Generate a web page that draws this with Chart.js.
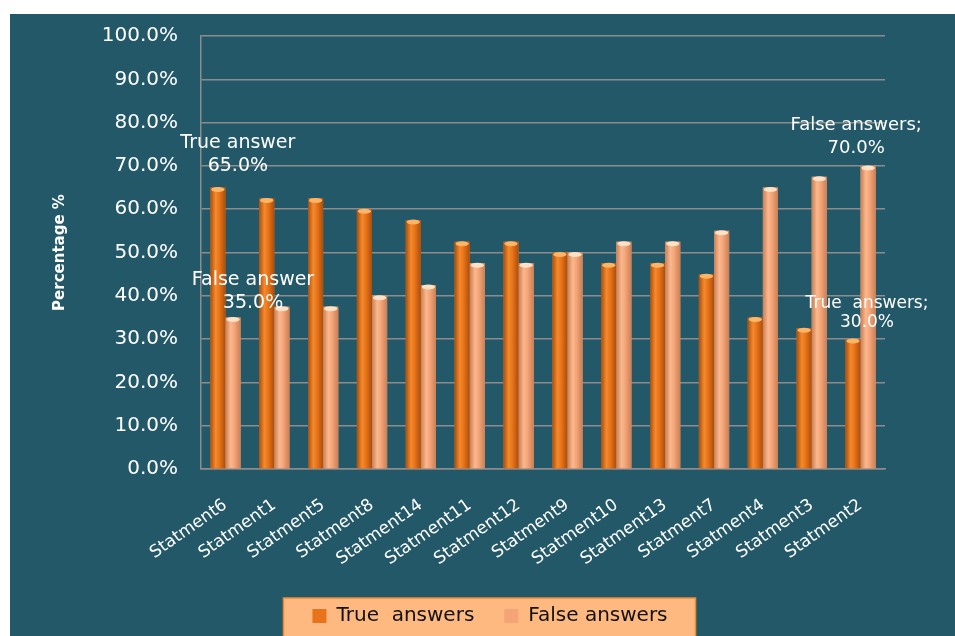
<!DOCTYPE html>
<html><head><meta charset="utf-8">
<script src="https://cdn.jsdelivr.net/npm/chart.js@4.4.1/dist/chart.umd.min.js"></script>
<style>html,body{margin:0;padding:0;background:#fff;overflow:hidden}#wrap{width:955px;height:636px;position:relative}</style>
</head><body><div id="wrap"><canvas id="c" width="955" height="636"></canvas></div>
<script>
const categories = ['Statment6','Statment1','Statment5','Statment8','Statment14','Statment11','Statment12','Statment9','Statment10','Statment13','Statment7','Statment4','Statment3','Statment2'];
const trueAnswers = [65,62.5,62.5,60,57.5,52.5,52.5,50,47.5,47.5,45,35,32.5,30];
const falseAnswers = [35,37.5,37.5,40,42.5,47.5,47.5,50,52.5,52.5,55,65,67.5,70];
const seriesNames = ['True  answers','False answers'];
const yAxisTitle = 'Percentage %';
const yTickValues = [0,10,20,30,40,50,60,70,80,90,100];
const annotations = [
  {ds:0, idx:0, lines:['True answer','65.0%'], dx:20, dy:[-44,-21], size:19},
  {ds:1, idx:0, lines:['False answer','35.0%'], dx:20, dy:[-37,-14], size:19},
  {ds:1, idx:13, lines:['False answers;','70.0%'], dx:-12, dy:[-41,-18], size:18},
  {ds:0, idx:13, lines:['True  answers;','30.0%'], dx:14, dy:[-36,-17], size:17}
];

const FONT = "'DejaVu Sans', Verdana, sans-serif";
const palette = [
  {base:'#E8731A', edge:'#A94E0C', mid:'#F58A2C', cap:'#FFB566'},
  {base:'#F4A477', edge:'#C97F55', mid:'#FBB88E', cap:'#FFE2C6'}
];

const bgPlugin = {
  id:'bg',
  beforeDraw(chart){
    const ctx = chart.ctx;
    ctx.save();
    ctx.fillStyle = '#ffffff';
    ctx.fillRect(0,0,chart.width,chart.height);
    ctx.fillStyle = '#235868';
    ctx.fillRect(10,14,chart.width-10,chart.height-14);
    const lg = chart.legend;
    if (lg && lg.legendHitBoxes && lg.legendHitBoxes.length){
      const hb = lg.legendHitBoxes;
      const l = Math.min(...hb.map(h=>h.left));
      const r = Math.max(...hb.map(h=>h.left+h.width));
      const t = Math.min(...hb.map(h=>h.top));
      ctx.fillStyle = '#FDB980';
      ctx.strokeStyle = '#EE8A34';
      ctx.lineWidth = 1.5;
      ctx.fillRect(l-29, t-8, r-l+57, 60);
      ctx.strokeRect(l-29, t-8, r-l+57, 60);
    }
    ctx.restore();
  }
};

const cylinderPlugin = {
  id:'cylinder',
  afterDatasetsDraw(chart){
    const ctx = chart.ctx;
    ctx.save();
    chart.data.datasets.forEach((ds,di)=>{
      const meta = chart.getDatasetMeta(di);
      const p = palette[di];
      meta.data.forEach(el=>{
        const {x,y,base,width} = el.getProps(['x','y','base','width'], true);
        const l = x - width/2;
        const g = ctx.createLinearGradient(l,0,l+width,0);
        g.addColorStop(0,p.edge);
        g.addColorStop(0.35,p.mid);
        g.addColorStop(0.6,p.base);
        g.addColorStop(1,p.edge);
        ctx.fillStyle = g;
        ctx.fillRect(l, y, width, base-y);
        ctx.beginPath();
        ctx.ellipse(x, y+2, width/2-1, 2.5, 0, 0, Math.PI*2);
        ctx.fillStyle = p.cap;
        ctx.fill();
      });
    });
    ctx.restore();
  }
};

const labelPlugin = {
  id:'labels',
  afterDatasetsDraw(chart){
    const ctx = chart.ctx;
    ctx.save();
    ctx.fillStyle = '#ffffff';
    ctx.textAlign = 'center';
    ctx.textBaseline = 'middle';
    annotations.forEach(a=>{
      const el = chart.getDatasetMeta(a.ds).data[a.idx];
      ctx.font = a.size + 'px ' + FONT;
      a.lines.forEach((t,i)=>{
        ctx.fillText(t, el.x + a.dx, el.y + a.dy[i]);
      });
    });
    ctx.restore();
  }
};

new Chart(document.getElementById('c'), {
  type:'bar',
  data:{
    labels: categories,
    datasets:[
      {label: seriesNames[0], data: trueAnswers, backgroundColor: palette[0].base, borderWidth:0},
      {label: seriesNames[1], data: falseAnswers, backgroundColor: palette[1].base, borderWidth:0}
    ]
  },
  options:{
    responsive:false,
    devicePixelRatio:1,
    animation:false,
    layout:{padding:{left:25, right:0, top:36, bottom:0}},
    datasets:{bar:{categoryPercentage:0.62, barPercentage:1}},
    plugins:{
      legend:{
        position:'bottom',
        maxHeight:61,
        labels:{
          color:'#111111',
          font:{family:FONT, size:20},
          boxWidth:14, boxHeight:14, padding:30
        }
      },
      tooltip:{enabled:false}
    },
    scales:{
      x:{
        grid:{display:false, drawTicks:false},
        border:{display:true, color:'#8c8c8c', width:1.5},
        ticks:{color:'#ffffff', font:{family:FONT, size:17}, minRotation:35, maxRotation:35, padding:26, autoSkip:false},
        afterFit(s){ s.height = 107; }
      },
      y:{
        min:0, max:100,
        afterBuildTicks(s){ s.ticks = yTickValues.map(v=>({value:v})); },
        grid:{color:'#8c8c8c', lineWidth:1.5, drawTicks:false},
        border:{display:true, color:'#8c8c8c', width:1.5},
        ticks:{color:'#ffffff', font:{family:FONT, size:20}, padding:23, callback:v=>v.toFixed(1)+'%'},
        title:{display:true, text:yAxisTitle, color:'#ffffff', font:{family:FONT, size:15, weight:'bold'}, padding:{top:26}},
        afterFit(s){ s.width = 176; }
      },
      yr:{
        position:'right',
        display:true,
        grid:{display:false, drawTicks:false},
        border:{display:false},
        ticks:{display:false},
        afterFit(s){ s.width = 70; }
      }
    }
  },
  plugins:[bgPlugin, cylinderPlugin, labelPlugin]
});
</script>
</body></html>
